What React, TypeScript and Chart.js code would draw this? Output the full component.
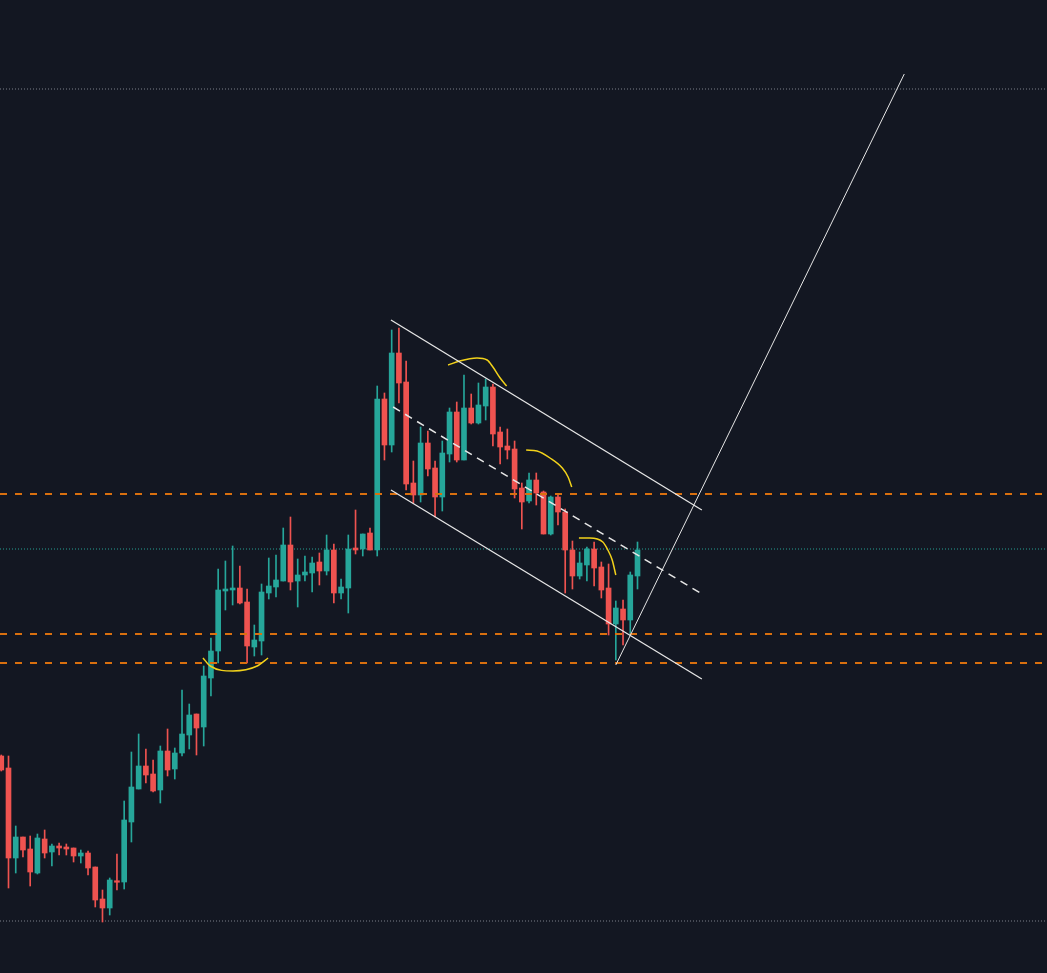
import React, { useEffect, useRef } from "react";
import { Chart, registerables } from "chart.js";

Chart.register(...registerables);

// OHLC values (price units), one entry per candle
const opens = [21.7, 20.5, 11.5, 13.6, 12.4, 10.0, 13.4, 12.1, 12.7, 12.6, 12.5, 11.7, 12.0, 10.6, 7.4, 6.5, 9.2, 9.1, 15.1, 18.4,
  20.7, 19.9, 18.3, 22.2, 20.4, 22.0, 23.8, 25.9, 24.6, 29.5, 32.2, 38.2, 38.3, 38.5, 37.1, 32.6, 33.2, 38.0, 38.6, 39.2,
  42.8, 39.2, 39.8, 40.0, 41.1, 40.2, 42.3, 38.0, 38.5, 42.5, 42.4, 44.0, 42.3, 57.4, 52.8, 62.0, 59.1, 49.0, 47.8, 53.0,
  50.5, 47.6, 51.9, 56.1, 51.3, 56.5, 55.0, 56.7, 58.6, 54.1, 52.7, 52.4, 48.5, 47.2, 49.3, 48.1, 43.9, 47.6, 46.1, 42.3,
  39.7, 40.8, 42.4, 40.6, 38.5, 34.9, 36.4, 35.3, 39.7];
const highs = [21.8, 21.7, 14.7, 13.6, 13.7, 13.9, 14.3, 12.9, 13.0, 12.9, 12.5, 12.3, 12.2, 10.6, 8.3, 9.5, 11.9, 17.2, 22.1, 23.9,
  22.4, 21.3, 22.7, 24.4, 22.5, 28.3, 26.9, 25.9, 30.7, 33.5, 40.4, 41.2, 42.7, 40.7, 38.4, 34.8, 38.9, 41.5, 41.8, 44.5,
  45.6, 41.4, 41.7, 41.6, 42.0, 43.8, 42.9, 39.4, 43.8, 46.3, 43.9, 44.5, 58.7, 58.0, 64.3, 64.5, 61.2, 51.2, 54.6, 54.2,
  51.2, 53.2, 56.5, 57.1, 59.8, 57.9, 59.0, 59.4, 58.9, 54.6, 54.4, 53.2, 49.0, 50.0, 50.0, 48.2, 47.7, 47.8, 46.4, 43.2,
  42.1, 42.6, 43.1, 41.1, 40.9, 37.2, 37.3, 40.1, 43.1];
const lows = [20.2, 8.5, 10.0, 11.6, 8.7, 9.9, 11.5, 10.7, 11.8, 11.8, 11.1, 11.0, 9.8, 6.6, 5.1, 5.8, 8.3, 8.4, 13.1, 18.4,
  19.0, 18.1, 17.0, 19.7, 19.4, 21.7, 22.4, 21.8, 22.7, 27.7, 31.0, 36.3, 36.8, 36.9, 31.0, 31.7, 31.8, 37.4, 37.6, 39.2,
  38.3, 36.6, 39.2, 38.1, 38.8, 39.8, 37.0, 37.4, 36.0, 41.9, 41.7, 42.3, 41.7, 51.3, 52.1, 57.0, 48.3, 47.0, 47.1, 49.7,
  45.6, 46.2, 51.1, 51.1, 51.3, 54.9, 54.9, 55.3, 52.7, 50.9, 51.4, 47.5, 44.4, 47.0, 46.8, 43.9, 43.8, 44.8, 38.0, 38.4,
  39.4, 39.2, 38.7, 37.5, 33.8, 31.3, 32.8, 33.9, 38.4];
const closes = [20.3, 11.5, 13.6, 12.3, 10.1, 13.5, 12.0, 12.7, 12.5, 12.4, 11.7, 12.0, 10.5, 7.3, 6.5, 9.3, 9.1, 15.3, 18.6, 20.7,
  19.8, 18.2, 22.2, 20.3, 22.0, 23.9, 25.8, 24.5, 29.7, 32.2, 38.3, 38.4, 38.5, 37.0, 32.7, 33.3, 38.1, 38.7, 39.3, 42.8,
  39.1, 39.8, 40.1, 41.0, 40.2, 42.3, 38.0, 38.6, 42.4, 42.3, 43.9, 42.3, 57.4, 52.8, 62.0, 59.0, 48.9, 47.8, 53.0, 50.4,
  47.6, 52.0, 56.1, 51.3, 56.5, 55.0, 56.8, 58.6, 53.9, 52.6, 52.3, 48.4, 47.1, 49.3, 48.0, 43.9, 47.6, 46.1, 42.3, 39.7,
  41.0, 42.4, 40.5, 38.3, 34.9, 36.5, 35.3, 39.8, 42.3];

// Horizontal levels
const grayDottedLevels = [88.4, 5.2];
const tealDottedLevels = [42.4];
const orangeDashedLevels = [47.9, 33.9, 31.0];

// Drawings (x = candle index, y = price)
const upperChannel = [{ x: 53.9, y: 65.3 }, { x: 96.9, y: 46.3 }];
const lowerChannel = [{ x: 53.9, y: 48.3 }, { x: 96.9, y: 29.4 }];
const midChannel = [{ x: 54.2, y: 56.6 }, { x: 96.9, y: 37.9 }];
const longLine = [{ x: 85.0, y: 30.8 }, { x: 124.9, y: 89.9 }];
const arc1 = [{ x: 27.9, y: 31.5 }, { x: 28.9, y: 30.7 }, { x: 32.05, y: 30.2 }, { x: 35.4, y: 30.7 }, { x: 36.9, y: 31.5 }];
const arc2 = [{ x: 61.8, y: 60.8 }, { x: 63.4, y: 61.2 }, { x: 65.8, y: 61.5 }, { x: 67.2, y: 61.3 }, { x: 68.0, y: 60.6 }, { x: 69.0, y: 59.5 }, { x: 69.9, y: 58.7 }];
const arc3 = [{ x: 72.6, y: 52.3 }, { x: 74.1, y: 52.2 }, { x: 75.9, y: 51.5 }, { x: 77.6, y: 50.5 }, { x: 78.4, y: 49.6 }, { x: 78.9, y: 48.6 }];
const arc4 = [{ x: 79.9, y: 43.5 }, { x: 81.4, y: 43.5 }, { x: 83.2, y: 43.1 }, { x: 83.9, y: 42.3 }, { x: 84.5, y: 41.3 }, { x: 85.0, y: 39.8 }];

const X_MIN = -0.176;
const X_MAX = 144.64;
const Y_MIN = 0;
const Y_MAX = 97.3;

const UP = "#26a69a";
const DOWN = "#ef5350";
const BG = "#131722";

export default function App() {
  const ref = useRef<HTMLCanvasElement | null>(null);

  useEffect(() => {
    document.body.style.margin = "0";
    document.body.style.background = BG;
    const canvas = ref.current;
    if (!canvas) return;

    const colors = opens.map((o, i) => (closes[i] >= o ? UP : DOWN));
    const bodies = opens.map((o, i) => {
      const c = closes[i];
      let lo = Math.min(o, c);
      let hi = Math.max(o, c);
      if (hi - lo < 0.15) {
        const m = (hi + lo) / 2;
        lo = m - 0.075;
        hi = m + 0.075;
      }
      return { x: i, y: [lo, hi] };
    });
    const wicks = opens.map((_, i) => ({ x: i, y: [lows[i], highs[i]] }));

    const hLine = (v: number) => [{ x: X_MIN, y: v }, { x: X_MAX, y: v }];
    const lineDs = (data: any, color: string, width: number, dash: number[] = [], tension = 0, order = 0) => ({
      type: "line" as const,
      data,
      borderColor: color,
      borderWidth: width,
      borderDash: dash,
      pointRadius: 0,
      fill: false,
      tension,
      cubicInterpolationMode: tension ? ("monotone" as const) : ("default" as const),
      order,
    });

    const datasets: any[] = [
      ...grayDottedLevels.map((v) => lineDs(hLine(v), "rgba(130,133,144,0.95)", 1, [1, 2], 0, 5)),
      ...tealDottedLevels.map((v) => lineDs(hLine(v), "rgba(38,166,154,0.95)", 1, [1, 2], 0, 5)),
      {
        type: "bar",
        data: wicks,
        backgroundColor: colors,
        borderWidth: 0,
        barThickness: 1,
        grouped: false,
        order: 4,
      },
      {
        type: "bar",
        data: bodies,
        backgroundColor: colors,
        borderWidth: 0,
        barThickness: 5,
        grouped: false,
        order: 3,
      },
      ...orangeDashedLevels.map((v) => lineDs(hLine(v), "#d9700f", 2, [7, 8], 0, 1)),
      lineDs(upperChannel, "#e6e6e6", 1.3, [], 0, 0),
      lineDs(lowerChannel, "#e6e6e6", 1.3, [], 0, 0),
      lineDs(midChannel, "#e6e6e6", 1.5, [8, 6], 0, 0),
      lineDs(longLine, "#e6e6e6", 1, [], 0, 0),
      lineDs(arc1, "#f2d21b", 1.5, [], 0.4, 0),
      lineDs(arc2, "#f2d21b", 1.5, [], 0.4, 0),
      lineDs(arc3, "#f2d21b", 1.5, [], 0.4, 0),
      lineDs(arc4, "#f2d21b", 1.5, [], 0.4, 0),
    ];

    const chart = new Chart(canvas, {
      type: "bar",
      data: { datasets },
      options: {
        animation: false,
        responsive: false,
        maintainAspectRatio: false,
        layout: { padding: 0 },
        plugins: { legend: { display: false }, tooltip: { enabled: false } },
        scales: {
          x: { type: "linear", min: X_MIN, max: X_MAX, display: false, offset: false, grid: { display: false } },
          y: { type: "linear", min: Y_MIN, max: Y_MAX, display: false, grid: { display: false } },
        },
      } as any,
    });
    return () => chart.destroy();
  }, []);

  return (
    <div style={{ width: 1047, height: 973, background: BG }}>
      <canvas ref={ref} width={1047} height={973} style={{ display: "block", width: 1047, height: 973 }} />
    </div>
  );
}
